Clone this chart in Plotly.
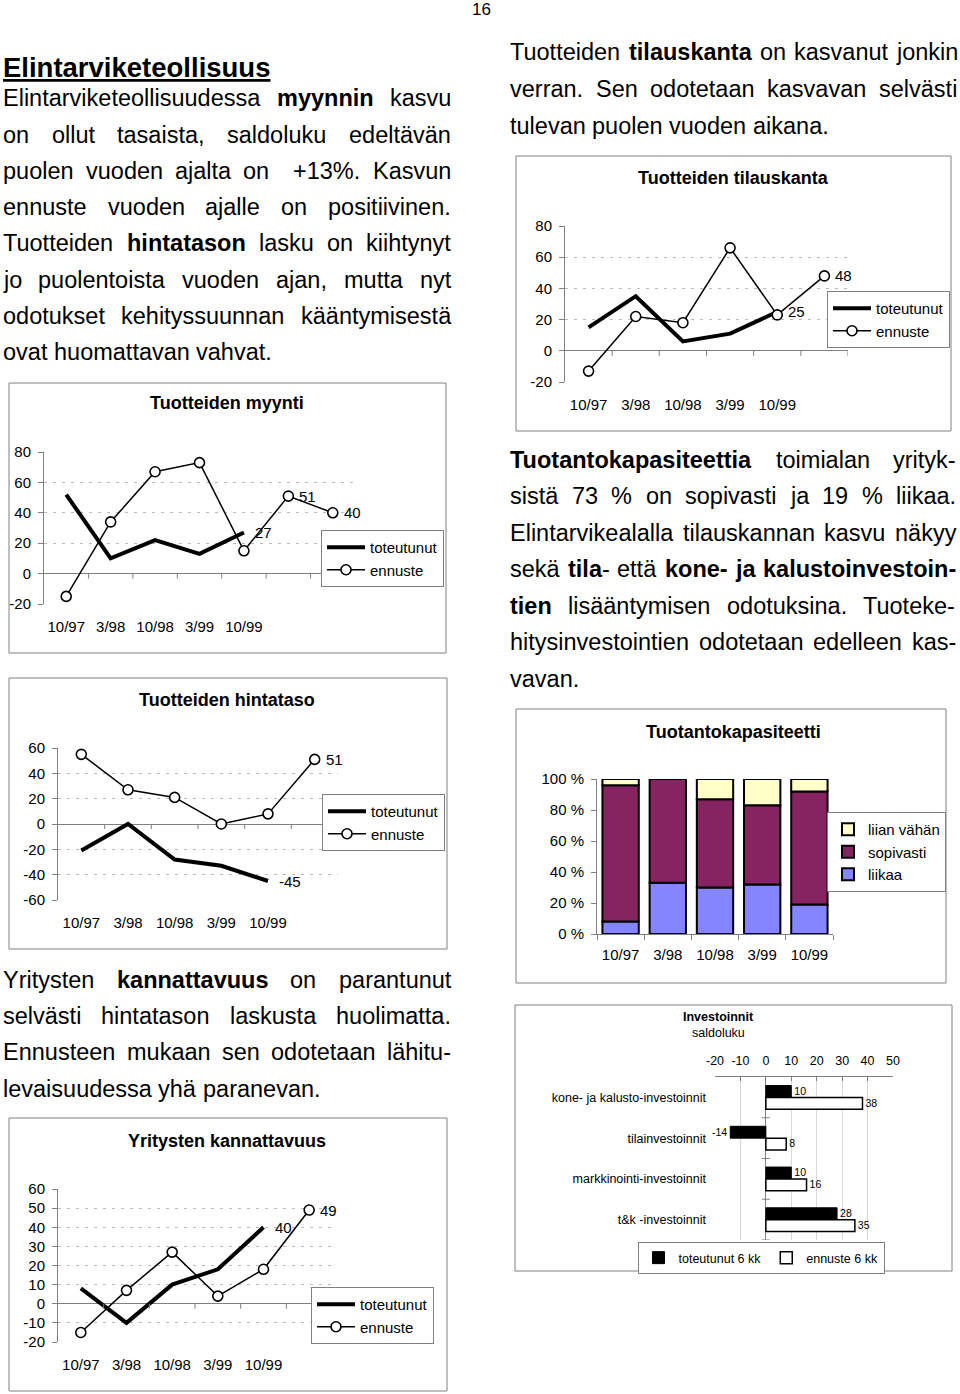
import numpy as np
import plotly.graph_objects as go

W, H = 960, 1394
FONT = "Liberation Sans, Arial, Helvetica, sans-serif"
GRAY = "#808080"

# ---------------------------------------------------------------- data
PERIODS = ["10/97", "3/98", "10/98", "3/99", "10/99"]
FUTURE = ["3/00", "10/00"]

TILAUS_TOT = [15, 35, 6, 11, 25]
TILAUS_ENN = [-13, 22, 18, 66, 23, 48]

MYYNTI_TOT = [52, 10, 22, 13, 27]
MYYNTI_ENN = [-15, 34, 67, 73, 15, 51, 40]

HINTA_TOT = [-21, 0, -28, -33, -45]
HINTA_ENN = [55, 27, 21, 0, 8, 51]

KANN_TOT = [8, -10, 10, 18, 40]
KANN_ENN = [-15, 7, 27, 4, 18, 49]

KAP_LIIKAA = [8, 33, 30, 32, 19]
KAP_SOPIVASTI = [88, 67, 57, 51, 73]
KAP_VAHAN = [4, 0, 13, 17, 8]

INV_CATS = ["kone- ja kalusto-investoinnit", "tilainvestoinnit",
            "markkinointi-investoinnit", "t&k -investoinnit"]
INV_TOT = [10, -14, 10, 28]
INV_ENN = [38, 8, 16, 35]

HEADING = "Elintarviketeollisuus"
LEFT_P1 = [
    "Elintarviketeollisuudessa **myynnin** kasvu",
    "on ollut tasaista, saldoluku edeltävän",
    "puolen vuoden ajalta on  +13%. Kasvun",
    "ennuste vuoden ajalle on positiivinen.",
    "Tuotteiden **hintatason** lasku on kiihtynyt",
    "jo puolentoista vuoden ajan, mutta nyt",
    "odotukset kehityssuunnan kääntymisestä",
    "ovat huomattavan vahvat.",
]
RIGHT_P1 = [
    "Tuotteiden **tilauskanta** on kasvanut jonkin",
    "verran. Sen odotetaan kasvavan selvästi",
    "tulevan puolen vuoden aikana.",
]
RIGHT_P2 = [
    "**Tuotantokapasiteettia** toimialan yrityk-",
    "sistä 73 % on sopivasti ja 19 % liikaa.",
    "Elintarvikealalla tilauskannan kasvu näkyy",
    "sekä **tila**- että **kone- ja kalustoinvestoin-**",
    "**tien** lisääntymisen odotuksina. Tuoteke-",
    "hitysinvestointien odotetaan edelleen kas-",
    "vavan.",
]
LEFT_P3 = [
    "Yritysten **kannattavuus** on parantunut",
    "selvästi hintatason laskusta huolimatta.",
    "Ennusteen mukaan sen odotetaan lähitu-",
    "levaisuudessa yhä paranevan.",
]

# ---------------------------------------------------------------- font metrics (Arial / Liberation Sans)
REG_W = dict(zip("abcdefghijklmnopqrstuvwxyz",
                 [556, 556, 500, 556, 556, 278, 556, 556, 222, 222, 500, 222, 833,
                  556, 556, 556, 556, 333, 500, 278, 556, 500, 722, 500, 500, 500]))
REG_W.update(zip("ABCDEFGHIJKLMNOPQRSTUVWXYZ",
                 [667, 667, 722, 722, 667, 611, 778, 722, 278, 500, 667, 556, 833,
                  722, 778, 667, 778, 722, 667, 611, 722, 667, 944, 667, 667, 611]))
BOLD_W = dict(zip("abcdefghijklmnopqrstuvwxyz",
                  [556, 611, 556, 611, 556, 333, 611, 611, 278, 278, 556, 278, 889,
                   611, 611, 611, 611, 389, 556, 333, 611, 556, 778, 556, 556, 500]))
BOLD_W.update(zip("ABCDEFGHIJKLMNOPQRSTUVWXYZ",
                  [722, 722, 722, 722, 667, 611, 778, 722, 278, 556, 722, 611, 833,
                   722, 778, 667, 778, 722, 667, 611, 722, 667, 944, 667, 667, 611]))
for tbl in (REG_W, BOLD_W):
    for d in "0123456789":
        tbl[d] = 556
    tbl.update({" ": 278, ".": 278, ",": 278, "-": 333, "%": 889, "+": 584,
                "ä": 556, "ö": 556, "/": 278})
BOLD_W["ö"] = 611


def run_width(text, bold, size):
    tbl = BOLD_W if bold else REG_W
    return sum(tbl.get(c, 556) for c in text) * size / 1000.0


def parse_line(line):
    words = []
    bold = False
    for tok in line.split(" "):
        runs = []
        for j, p in enumerate(tok.split("**")):
            if j > 0:
                bold = not bold
            if p:
                runs.append((p, bold))
        words.append(runs)
    return words


def px(x):
    return x / W


def py(y):
    return 1 - y / H


annotations = []
shapes = []
layout_updates = {}


def add_text(x, yc, text, size, xanchor="left"):
    annotations.append(dict(
        x=px(x), y=py(yc), xref="paper", yref="paper", text=text,
        showarrow=False, xanchor=xanchor, yanchor="middle", borderpad=0,
        font=dict(family=FONT, size=size, color="black")))


def add_paragraph(lines, x0, x1, baseline0, spacing, size):
    for k, line in enumerate(lines):
        words = parse_line(line)
        widths = [sum(run_width(t, b, size) for t, b in w) for w in words]
        last = k == len(lines) - 1
        if last or len(words) < 2:
            gap = run_width(" ", False, size)
        else:
            gap = (x1 - x0 - sum(widths)) / (len(words) - 1)
        x = x0
        yc = baseline0 + k * spacing - 0.3465 * size
        for w, wd in zip(words, widths):
            if w:
                html = "".join(f"<b>{t}</b>" if b else t for t, b in w)
                add_text(x - 1, yc, html, size)
            x += wd + gap


# ---------------------------------------------------------------- page text
BODY = 23.5
add_text(481, 9, "16", 17, xanchor="center")
add_text(2, 77.5 - 0.3465 * 27.5, f"<b><u>{HEADING}</u></b>", 27.5)
add_paragraph(LEFT_P1, 3, 451, 106.5, 36.25, BODY)
add_paragraph(RIGHT_P1, 510, 957, 60.5, 36.6, BODY)
add_paragraph(RIGHT_P2, 510, 956, 468, 36.45, BODY)
add_paragraph(LEFT_P3, 3, 451, 988, 36.3, BODY)


def axis_ids(k):
    s = "" if k == 1 else str(k)
    return "x" + s, "y" + s, "xaxis" + s, "yaxis" + s, "legend" + s


def chart_box(x0, y0, x1, y1):
    shapes.append(dict(type="rect", xref="paper", yref="paper",
                       x0=px(x0), x1=px(x1), y0=py(y1), y1=py(y0),
                       line=dict(color=GRAY, width=1), fillcolor="rgba(0,0,0,0)",
                       layer="below"))


def legend_def(x, y, xanchor="left", **kw):
    d = dict(x=px(x), y=py(y), xanchor=xanchor, yanchor="top", xref="paper", yref="paper",
             bgcolor="white", bordercolor=GRAY, borderwidth=1,
             font=dict(family=FONT, size=15, color="black"), tracegroupgap=0)
    d.update(kw)
    return d


TICKFONT = dict(family=FONT, size=15, color="black")


def num_ticks(lo, hi, step, suffix=""):
    vals = list(range(lo, hi + 1, step))
    return dict(tickmode="array", tickvals=vals, ticktext=[f"{v}{suffix}" for v in vals])


def line_chart(k, tot, enn, enn_labels, yrange, dtick, xdom, ydom, leg_xy, box, title, title_xy):
    xid, yid, xk, yk, lk = axis_ids(k)
    n = len(enn)
    cats = (PERIODS + FUTURE)[:n]
    fig.add_trace(go.Scatter(
        x=cats[:len(tot)], y=tot, mode="lines", name="toteutunut",
        line=dict(color="black", width=4), xaxis=xid, yaxis=yid, legend=lk,
        cliponaxis=False))
    fig.add_trace(go.Scatter(
        x=cats, y=enn, mode="lines+markers", name="ennuste",
        line=dict(color="black", width=1.5),
        marker=dict(symbol="circle", size=10, color="white",
                    line=dict(color="black", width=1.6)),
        xaxis=xid, yaxis=yid, legend=lk, cliponaxis=False))
    grid_vals = [v for v in range(yrange[0] + dtick, yrange[1], dtick) if v != 0]
    layout_updates[xk] = dict(
        domain=[px(xdom[0]), px(xdom[1])], anchor=yid, type="category",
        categoryorder="array", categoryarray=cats, range=[-0.5, n - 0.5],
        showline=False, showgrid=False, zeroline=False, automargin=False,
        tickmode="array", tickvals=PERIODS, ticktext=PERIODS, tickangle=0,
        ticks="outside", ticklen=9, tickcolor="rgba(0,0,0,0)", tickfont=TICKFONT)
    layout_updates[yk] = dict(
        domain=[py(ydom[1]), py(ydom[0])], anchor=xid, range=list(yrange),
        showline=True, linecolor=GRAY, linewidth=1, automargin=False,
        ticks="outside", ticklen=5, tickcolor=GRAY,
        showgrid=False, zeroline=True, zerolinecolor=GRAY, zerolinewidth=1,
        minor=dict(tickmode="array", tickvals=grid_vals, showgrid=True,
                   gridcolor="#bbbbbb", gridwidth=1, griddash="3px,6px", ticks=""),
        tickfont=TICKFONT, ticklabelstandoff=4, **num_ticks(yrange[0], yrange[1], dtick))
    layout_updates[lk] = legend_def(*leg_xy, itemwidth=38)
    # category boundary ticks on the zero line
    for i in range(n):
        shapes.append(dict(type="line", xref=xid, yref=yid, x0=i + 0.5, x1=i + 0.5,
                           ysizemode="pixel", yanchor=0, y0=-5, y1=0,
                           line=dict(color=GRAY, width=1)))
    # data labels
    i = len(tot) - 1
    annotations.append(dict(x=i, y=tot[i], xref=xid, yref=yid, text=str(tot[i]),
                            showarrow=False, xanchor="left", xshift=9,
                            font=dict(family=FONT, size=15, color="black")))
    for i in enn_labels:
        annotations.append(dict(x=i, y=enn[i], xref=xid, yref=yid, text=str(enn[i]),
                                showarrow=False, xanchor="left", xshift=9,
                                font=dict(family=FONT, size=15, color="black")))
    chart_box(*box)
    add_text(title_xy[0], title_xy[1], f"<b>{title}</b>", 18, xanchor="center")


fig = go.Figure()

# A: Tuotteiden tilauskanta
line_chart(1, TILAUS_TOT, TILAUS_ENN, [5], (-20, 80), 20,
           (565, 848), (226, 382), (827, 291), (516, 156, 951, 431),
           "Tuotteiden tilauskanta", (733, 178))
# B: Tuotteiden myynti
line_chart(2, MYYNTI_TOT, MYYNTI_ENN, [5, 6], (-20, 80), 20,
           (44, 355), (452, 604), (321, 530), (9, 383, 446, 653),
           "Tuotteiden myynti", (227, 403))
# C: Tuotteiden hintataso
line_chart(3, HINTA_TOT, HINTA_ENN, [5], (-60, 60), 20,
           (58, 338), (748, 900), (322, 794), (9, 678, 447, 949),
           "Tuotteiden hintataso", (227, 699.5))
# D: Yritysten kannattavuus
line_chart(4, KANN_TOT, KANN_ENN, [5], (-20, 60), 10,
           (58, 332), (1189, 1342), (311, 1287), (9, 1118, 447, 1391),
           "Yritysten kannattavuus", (227, 1140.5))

# E: Tuotantokapasiteetti (stacked 100 % bars)
liikaa = np.array(KAP_LIIKAA)
sopiv = np.array(KAP_SOPIVASTI)
vahan = np.array(KAP_VAHAN)
bar_common = dict(x=PERIODS, width=0.77, offset=-0.385, xaxis="x5", yaxis="y5",
                  legend="legend5")
fig.add_trace(go.Bar(y=liikaa, base=np.zeros_like(liikaa), name="liikaa",
                     marker=dict(color="#8585ff", line=dict(color="black", width=2)),
                     **bar_common))
fig.add_trace(go.Bar(y=sopiv, base=liikaa, name="sopivasti",
                     marker=dict(color="#862462", line=dict(color="black", width=2)),
                     **bar_common))
fig.add_trace(go.Bar(y=vahan, base=liikaa + sopiv, name="liian vähän",
                     marker=dict(color="#ffffc8", line=dict(color="black", width=2)),
                     **bar_common))
layout_updates["xaxis5"] = dict(
    domain=[px(597), px(833)], anchor="y5", type="category",
    categoryorder="array", categoryarray=PERIODS, tickangle=0, automargin=False,
    showline=True, linecolor=GRAY, ticks="outside", ticklen=5, tickcolor=GRAY,
    tickson="boundaries", showgrid=False, zeroline=False, tickfont=TICKFONT,
    ticklabelstandoff=7)
layout_updates["yaxis5"] = dict(
    domain=[py(934), py(779)], anchor="x5", range=[0, 100], automargin=False,
    showline=True, linecolor=GRAY,
    ticks="outside", ticklen=5, tickcolor=GRAY, showgrid=False, zeroline=False,
    tickfont=TICKFONT, ticklabelstandoff=4, **num_ticks(0, 100, 20, " %"))
layout_updates["legend5"] = legend_def(946, 812, xanchor="right", traceorder="reversed")
chart_box(516, 709, 946, 983)
add_text(733, 731.5, "<b>Tuotantokapasiteetti</b>", 18, xanchor="center")

# F: Investoinnit (horizontal grouped bars)
INVFONT = dict(family=FONT, size=12.5, color="black")
fig.add_trace(go.Bar(
    y=INV_CATS, x=INV_TOT, orientation="h", name="toteutunut 6 kk",
    width=0.29, offset=-0.29,
    marker=dict(color="black", line=dict(color="black", width=1)),
    text=[str(v) for v in INV_TOT], textposition="outside", textfont=INVFONT,
    cliponaxis=False, xaxis="x6", yaxis="y6", legend="legend6"))
fig.add_trace(go.Bar(
    y=INV_CATS, x=INV_ENN, orientation="h", name="ennuste 6 kk",
    width=0.29, offset=0.0,
    marker=dict(color="white", line=dict(color="black", width=1.5)),
    text=[str(v) for v in INV_ENN], textposition="outside", textfont=INVFONT,
    cliponaxis=False, xaxis="x6", yaxis="y6", legend="legend6"))
layout_updates["xaxis6"] = dict(
    domain=[px(715), px(893)], anchor="y6", side="top", range=[-20, 50],
    showline=True, linecolor=GRAY, automargin=False,
    ticks="inside", ticklen=4, tickcolor=GRAY, showgrid=False,
    zeroline=True, zerolinecolor=GRAY, zerolinewidth=1,
    minor=dict(tickmode="array", tickvals=[-10, 10, 20, 30, 40], showgrid=True,
               gridcolor="#d6d6d6", gridwidth=1, ticks=""),
    tickfont=INVFONT, ticklabelstandoff=6, **num_ticks(-20, 50, 10))
layout_updates["yaxis6"] = dict(
    domain=[py(1240), py(1077)], anchor="x6", type="category", automargin=False,
    categoryorder="array", categoryarray=INV_CATS, range=[3.5, -0.5],
    showline=False, ticks="", showgrid=False, zeroline=False,
    tickfont=INVFONT, ticklabelstandoff=8)
layout_updates["legend6"] = legend_def(761, 1242, xanchor="center", orientation="h",
                                       font=INVFONT)
for i in range(len(INV_CATS)):
    shapes.append(dict(type="line", xref="x6", yref="y6", y0=i + 0.5, y1=i + 0.5,
                       xsizemode="pixel", xanchor=0, x0=-4, x1=4,
                       line=dict(color=GRAY, width=1)))
chart_box(515, 1005, 952, 1271)
add_text(718, 1017.5, "<b>Investoinnit</b>", 12.5, xanchor="center")
add_text(718, 1033, "saldoluku", 12.5, xanchor="center")

fig.update_layout(
    width=W, height=H, margin=dict(l=0, r=0, t=0, b=0, autoexpand=False),
    paper_bgcolor="white", plot_bgcolor="rgba(0,0,0,0)",
    font=dict(family=FONT, color="black"),
    barmode="group", showlegend=True,
    annotations=annotations, shapes=shapes,
    **layout_updates)

fig.write_html("out.html",
               config={"displayModeBar": False},
               post_script="document.body.style.margin='0px';"
                           "document.body.style.padding='0px';")
